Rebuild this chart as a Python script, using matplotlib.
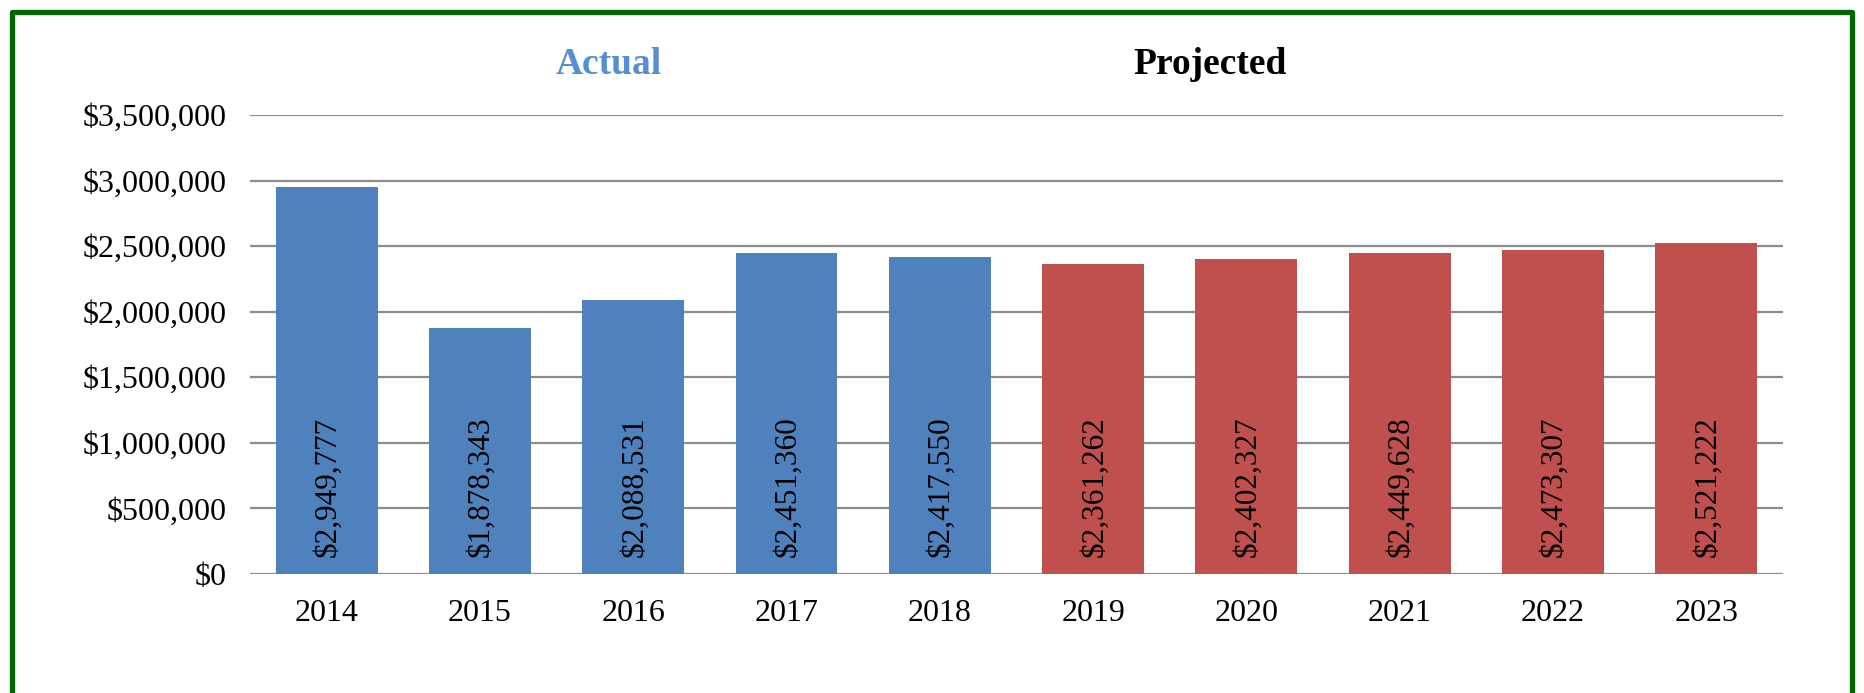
import matplotlib.pyplot as plt
from matplotlib.patches import Rectangle
from matplotlib.ticker import FuncFormatter

# ---- data ----
years = ['2014', '2015', '2016', '2017', '2018',
         '2019', '2020', '2021', '2022', '2023']
values = [2949777, 1878343, 2088531, 2451360, 2417550,
          2361262, 2402327, 2449628, 2473307, 2521222]
is_actual = [True, True, True, True, True,
             False, False, False, False, False]

blue = '#4F81BD'
red = '#C0504D'

plt.rcParams['font.family'] = ['Liberation Serif', 'DejaVu Serif']

fig = plt.figure(figsize=(18.64, 6.93), dpi=100)
ax = fig.add_axes([0.1341, 0.1717, 0.8224, 0.6623])

colors = [blue if a else red for a in is_actual]
xpos = list(range(len(years)))
bars = ax.bar(xpos, values, width=0.665, color=colors, zorder=3)

# value labels at the base of each bar, rotated
for x, v in zip(xpos, values):
    ax.annotate(f'${v:,.0f}', xy=(x, 0), xytext=(1, 12), textcoords='offset points',
                rotation=90, ha='center', va='bottom', fontsize=22.5, color='black', zorder=4)

ax.set_xlim(-0.5, len(years) - 0.5)
ax.set_ylim(0, 3500000)
ax.set_yticks(range(0, 3500001, 500000))
ax.yaxis.set_major_formatter(FuncFormatter(lambda v, p: f'${v:,.0f}'))
ax.set_xticks(xpos)
ax.set_xticklabels(years)
ax.tick_params(axis='both', length=0, labelsize=23)
ax.tick_params(axis='x', pad=18)
ax.tick_params(axis='y', pad=17)

ax.grid(axis='y', color='#8C8C8C', linewidth=1.6, zorder=0)
for s in ax.spines.values():
    s.set_visible(False)

# group headers
fig.text(609 / 1864, 1 - 65 / 693, 'Actual', ha='center', va='center',
         fontsize=27, fontweight='bold', color='#558ED5')
fig.text(1210 / 1864, 1 - 65 / 693, 'Projected', ha='center', va='center',
         fontsize=27, fontweight='bold', color='black')

# green frame (runs off the bottom of the image)
frame = Rectangle((12 / 1864, -0.1), (1852 - 12) / 1864, 1.1 - 12 / 693,
                  transform=fig.transFigure, fill=False, edgecolor='#006600',
                  linewidth=3.8, joinstyle='round')
fig.patches.append(frame)

fig.savefig('out.png', dpi=100)
